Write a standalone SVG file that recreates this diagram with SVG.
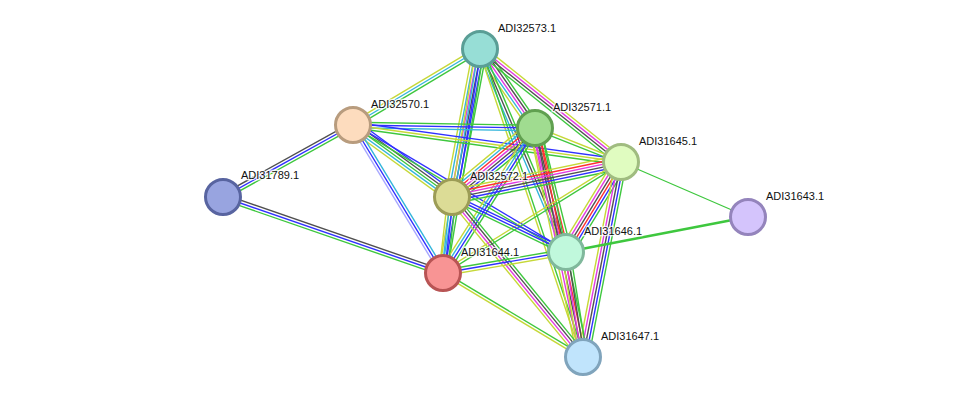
<svg xmlns="http://www.w3.org/2000/svg" width="975" height="403" viewBox="0 0 975 403">
<style>
.e line{stroke-width:1.4;fill:none;vector-effect:non-scaling-stroke}
.g{stroke:#3ec73e}.r{stroke:#ff3030}.b{stroke:#3030ff}.c{stroke:#33b5db}.k{stroke:#505050}.m{stroke:#e23ae2}.y{stroke:#c6d838}.l{stroke:#a8a8ff}
.n circle{stroke-width:3}
text{font-family:"Liberation Sans",Arial,sans-serif;font-size:11px;fill:#111;stroke:#fff;stroke-width:2.5;stroke-opacity:.8;paint-order:stroke}
</style>
<rect width="975" height="403" fill="#fff"/>
<g id="connectors" class="e">
<g transform="translate(480,49) rotate(149.1) scale(1,1.25)"><line x2="148" y1="-2.2" y2="-2.2" class="g"/><line x2="148" class="c"/><line x2="148" y1="2.2" y2="2.2" class="y"/></g>
<g transform="translate(480,49) rotate(100.7) scale(1,1.25)"><line x2="150.6" y1="-5.5" y2="-5.5" class="g"/><line x2="150.6" y1="-3.3" y2="-3.3" class="b"/><line x2="150.6" y1="-1.1" y2="-1.1" class="k"/><line x2="150.6" y1="1.1" y2="1.1" class="m"/><line x2="150.6" y1="3.3" y2="3.3" class="c"/><line x2="150.6" y1="5.5" y2="5.5" class="y"/></g>
<g transform="translate(480,49) rotate(99.4) scale(1,1.25)"><line x2="227" y1="-3.3" y2="-3.3" class="g"/><line x2="227" y1="-1.1" y2="-1.1" class="b"/><line x2="227" y1="1.1" y2="1.1" class="c"/><line x2="227" y1="3.3" y2="3.3" class="y"/></g>
<g transform="translate(480,49) rotate(55.2) scale(1,1.25)"><line x2="96.3" y1="-4.4" y2="-4.4" class="g"/><line x2="96.3" y1="-2.2" y2="-2.2" class="k"/><line x2="96.3" class="m"/><line x2="96.3" y1="2.2" y2="2.2" class="c"/><line x2="96.3" y1="4.4" y2="4.4" class="y"/></g>
<g transform="translate(480,49) rotate(38.7) scale(1,1.25)"><line x2="180.7" y1="-3.3" y2="-3.3" class="y"/><line x2="180.7" y1="-1.1" y2="-1.1" class="m"/><line x2="180.7" y1="1.1" y2="1.1" class="k"/><line x2="180.7" y1="3.3" y2="3.3" class="g"/></g>
<g transform="translate(480,49) rotate(67) scale(1,1.25)"><line x2="220.5" y1="-2.2" y2="-2.2" class="g"/><line x2="220.5" class="k"/><line x2="220.5" y1="2.2" y2="2.2" class="c"/></g>
<g transform="translate(480,49) rotate(71.5) scale(1,1.25)"><line x2="324.8" y1="-1.1" y2="-1.1" class="g"/><line x2="324.8" y1="1.1" y2="1.1" class="y"/></g>
<g transform="translate(353,125) rotate(151) scale(1,1.25)"><line x2="148.6" y1="-2.2" y2="-2.2" class="g"/><line x2="148.6" class="b"/><line x2="148.6" y1="2.2" y2="2.2" class="k"/></g>
<g transform="translate(353,125) rotate(0.94) scale(1,1.25)"><line x2="182" y1="-2.2" y2="-2.2" class="g"/><line x2="182" class="b"/><line x2="182" y1="2.2" y2="2.2" class="c"/></g>
<g transform="translate(353,125) rotate(7.86) scale(1,1.25)"><line x2="270.5" y1="-2.2" y2="-2.2" class="b"/><line x2="270.5" class="y"/><line x2="270.5" y1="2.2" y2="2.2" class="g"/></g>
<g transform="translate(353,125) rotate(36) scale(1,1.25)"><line x2="122.4" y1="-4.4" y2="-4.4" class="b"/><line x2="122.4" y1="-2.2" y2="-2.2" class="k"/><line x2="122.4" class="g"/><line x2="122.4" y1="2.2" y2="2.2" class="c"/><line x2="122.4" y1="4.4" y2="4.4" class="y"/></g>
<g transform="translate(353,125) rotate(58.7) scale(1,1.25)"><line x2="173.2" y1="-2.2" y2="-2.2" class="c"/><line x2="173.2" class="b"/><line x2="173.2" y1="2.2" y2="2.2" class="l"/></g>
<g transform="translate(353,125) rotate(30.8) scale(1,1.25)"><line x2="248" y1="-1.1" y2="-1.1" class="b"/><line x2="248" y1="1.1" y2="1.1" class="g"/></g>
<g transform="translate(223,197) rotate(19.06) scale(1,1.25)"><line x2="232.8" y1="-2.2" y2="-2.2" class="k"/><line x2="232.8" class="b"/><line x2="232.8" y1="2.2" y2="2.2" class="g"/></g>
<g transform="translate(535,128) rotate(140.3) scale(1,1.25)"><line x2="107.9" y1="-6.6" y2="-6.6" class="g"/><line x2="107.9" y1="-4.4" y2="-4.4" class="b"/><line x2="107.9" y1="-2.2" y2="-2.2" class="k"/><line x2="107.9" class="m"/><line x2="107.9" y1="2.2" y2="2.2" class="r"/><line x2="107.9" y1="4.4" y2="4.4" class="c"/><line x2="107.9" y1="6.6" y2="6.6" class="y"/></g>
<g transform="translate(535,128) rotate(21.6) scale(1,1.25)"><line x2="92.5" y1="-1.1" y2="-1.1" class="y"/><line x2="92.5" y1="1.1" y2="1.1" class="g"/></g>
<g transform="translate(535,128) rotate(122.4) scale(1,1.25)"><line x2="171.7" y1="-3.3" y2="-3.3" class="g"/><line x2="171.7" y1="-1.1" y2="-1.1" class="b"/><line x2="171.7" y1="1.1" y2="1.1" class="c"/><line x2="171.7" y1="3.3" y2="3.3" class="y"/></g>
<g transform="translate(535,128) rotate(76) scale(1,1.25)"><line x2="127.8" y1="-4.4" y2="-4.4" class="g"/><line x2="127.8" y1="-2.2" y2="-2.2" class="r"/><line x2="127.8" class="k"/><line x2="127.8" y1="2.2" y2="2.2" class="m"/><line x2="127.8" y1="4.4" y2="4.4" class="y"/></g>
<g transform="translate(535,128) rotate(78.2) scale(1,1.25)"><line x2="234" y1="-4.4" y2="-4.4" class="g"/><line x2="234" y1="-2.2" y2="-2.2" class="r"/><line x2="234" class="k"/><line x2="234" y1="2.2" y2="2.2" class="m"/><line x2="234" y1="4.4" y2="4.4" class="y"/></g>
<g transform="translate(621,162) rotate(168.3) scale(1,1.25)"><line x2="172.6" y1="-5.5" y2="-5.5" class="g"/><line x2="172.6" y1="-3.3" y2="-3.3" class="b"/><line x2="172.6" y1="-1.1" y2="-1.1" class="k"/><line x2="172.6" y1="1.1" y2="1.1" class="m"/><line x2="172.6" y1="3.3" y2="3.3" class="r"/><line x2="172.6" y1="5.5" y2="5.5" class="y"/></g>
<g transform="translate(621,162) rotate(148.1) scale(1,1.25)"><line x2="209.8" y1="-1.1" y2="-1.1" class="g"/><line x2="209.8" y1="1.1" y2="1.1" class="y"/></g>
<g transform="translate(621,162) rotate(121.4) scale(1,1.25)"><line x2="105.5" y1="-5.5" y2="-5.5" class="g"/><line x2="105.5" y1="-3.3" y2="-3.3" class="b"/><line x2="105.5" y1="-1.1" y2="-1.1" class="r"/><line x2="105.5" y1="1.1" y2="1.1" class="k"/><line x2="105.5" y1="3.3" y2="3.3" class="m"/><line x2="105.5" y1="5.5" y2="5.5" class="y"/></g>
<g transform="translate(621,162) rotate(101) scale(1,1.25)"><line x2="198.7" y1="-4.4" y2="-4.4" class="g"/><line x2="198.7" y1="-2.2" y2="-2.2" class="b"/><line x2="198.7" class="k"/><line x2="198.7" y1="2.2" y2="2.2" class="m"/><line x2="198.7" y1="4.4" y2="4.4" class="y"/></g>
<g transform="translate(621,162) rotate(23.4)"><line x2="138.4" class="g" style="stroke-width:1.2"/></g>
<g transform="translate(452,197) rotate(96.75) scale(1,1.25)"><line x2="76.5" y1="-3.3" y2="-3.3" class="g"/><line x2="76.5" y1="-1.1" y2="-1.1" class="b"/><line x2="76.5" y1="1.1" y2="1.1" class="c"/><line x2="76.5" y1="3.3" y2="3.3" class="y"/></g>
<g transform="translate(452,197) rotate(25.75) scale(1,1.25)"><line x2="126.6" y1="-2.2" y2="-2.2" class="b"/><line x2="126.6" class="b"/><line x2="126.6" y1="2.2" y2="2.2" class="g"/></g>
<g transform="translate(452,197) rotate(50.7) scale(1,1.25)"><line x2="206.8" y1="-3.3" y2="-3.3" class="g"/><line x2="206.8" y1="-1.1" y2="-1.1" class="k"/><line x2="206.8" y1="1.1" y2="1.1" class="m"/><line x2="206.8" y1="3.3" y2="3.3" class="y"/></g>
<g transform="translate(443,273) rotate(-9.7) scale(1,1.25)"><line x2="124.8" y1="-2.2" y2="-2.2" class="g"/><line x2="124.8" class="b"/><line x2="124.8" y1="2.2" y2="2.2" class="y"/></g>
<g transform="translate(443,273) rotate(31) scale(1,1.25)"><line x2="163.3" y1="-1.1" y2="-1.1" class="g"/><line x2="163.3" y1="1.1" y2="1.1" class="y"/></g>
<g transform="translate(566,252) rotate(80.8) scale(1,1.25)"><line x2="106.4" y1="-3.3" y2="-3.3" class="g"/><line x2="106.4" y1="-1.1" y2="-1.1" class="k"/><line x2="106.4" y1="1.1" y2="1.1" class="m"/><line x2="106.4" y1="3.3" y2="3.3" class="y"/></g>
<g transform="translate(566,252) rotate(-10.9)"><line x2="185.3" class="g" style="stroke-width:2.5"/></g>
</g>
<g id="n-ADI32573" class="n"><circle cx="480" cy="49" r="17.5" fill="#97ded6" stroke="#5a9e96"/><text x="498" y="31.5">ADI32573.1</text></g>
<g id="n-ADI32570" class="n"><circle cx="353" cy="125" r="17.5" fill="#fddcbe" stroke="#b89c7e"/><text x="371" y="107.5">ADI32570.1</text></g>
<g id="n-ADI32571" class="n"><circle cx="535" cy="128" r="17.5" fill="#a0dc90" stroke="#60a050"/><text x="553" y="110.5">ADI32571.1</text></g>
<g id="n-ADI31645" class="n"><circle cx="621" cy="162" r="17.5" fill="#e0fcc0" stroke="#a0bc80"/><text x="639" y="144.5">ADI31645.1</text></g>
<g id="n-ADI31789" class="n"><circle cx="223" cy="197" r="17.5" fill="#98a4e0" stroke="#5864a0"/><text x="241" y="179">ADI31789.1</text></g>
<g id="n-ADI32572" class="n"><circle cx="452" cy="197" r="17.5" fill="#dcdc96" stroke="#9c9c56"/><text x="470" y="180">ADI32572.1</text></g>
<g id="n-ADI31643" class="n"><circle cx="748" cy="217" r="17.5" fill="#d4c4fc" stroke="#9484bc"/><text x="766" y="200">ADI31643.1</text></g>
<g id="n-ADI31646" class="n"><circle cx="566" cy="252" r="17.5" fill="#c0f8dc" stroke="#80b89c"/><text x="584" y="235">ADI31646.1</text></g>
<g id="n-ADI31644" class="n"><circle cx="443" cy="273" r="17.5" fill="#f89494" stroke="#b85454"/><text x="461" y="256">ADI31644.1</text></g>
<g id="n-ADI31647" class="n"><circle cx="583" cy="357" r="17.5" fill="#c0e4fc" stroke="#80a4bc"/><text x="601" y="340">ADI31647.1</text></g>
</svg>
